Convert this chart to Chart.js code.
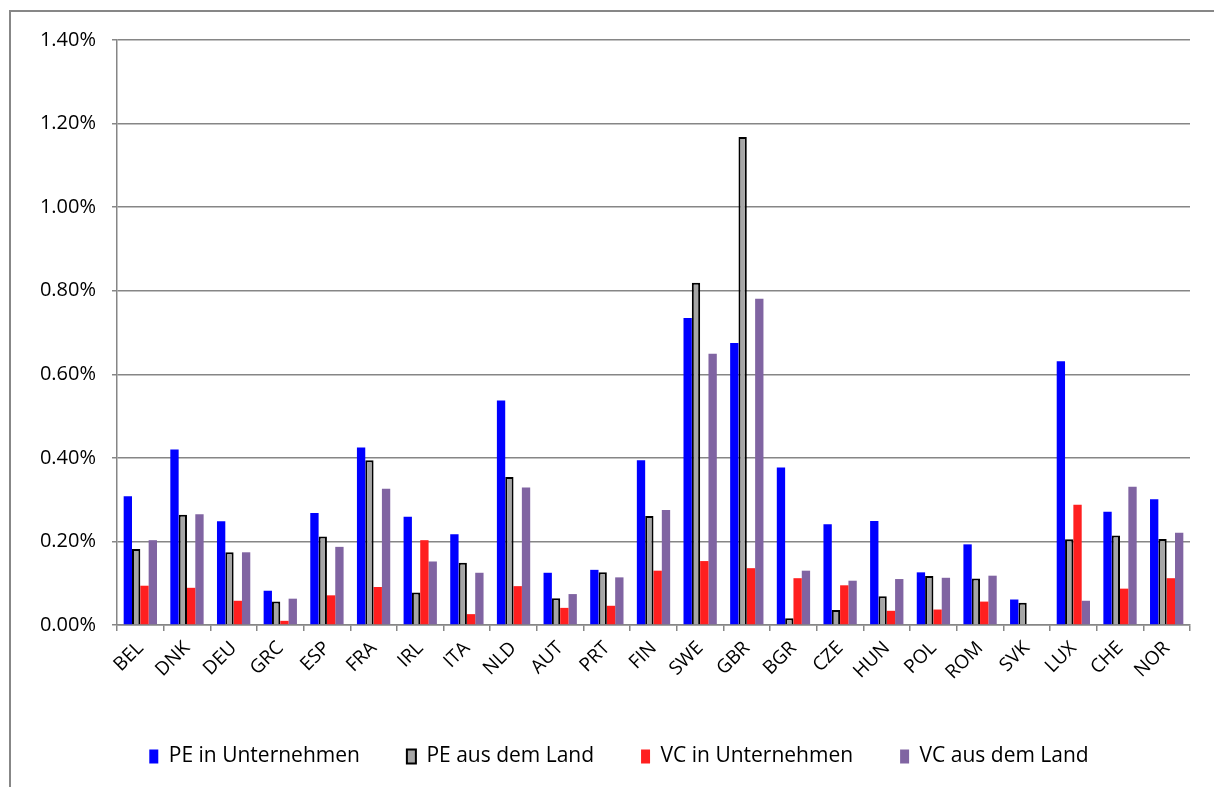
<!DOCTYPE html>
<html>
<head>
<meta charset="utf-8">
<script src="https://cdn.jsdelivr.net/npm/chart.js@4/dist/chart.umd.min.js"></script>
<style>
  html, body { margin: 0; padding: 0; background: #fff; overflow: hidden; width: 1214px; height: 787px; }
  #frame { position: absolute; left: 9px; top: 10px; width: 1300px; height: 900px; border-left: 2px solid #878787; border-top: 2px solid #878787; }
  #wrap { position: absolute; left: 0; top: 0; width: 1238px; height: 787px; }
</style>
</head>
<body>
<div id="frame"></div>
<div id="wrap"><canvas id="c"></canvas></div>
<script>
const categories = ["BEL","DNK","DEU","GRC","ESP","FRA","IRL","ITA","NLD","AUT","PRT","FIN","SWE","GBR","BGR","CZE","HUN","POL","ROM","SVK","LUX","CHE","NOR"];
const peInUnternehmen = [0.308,0.420,0.248,0.082,0.268,0.425,0.259,0.217,0.537,0.125,0.132,0.394,0.735,0.675,0.377,0.241,0.249,0.126,0.193,0.061,0.631,0.271,0.301];
const peAusDemLand    = [0.182,0.264,0.174,0.056,0.212,0.394,0.078,0.149,0.354,0.064,0.126,0.261,0.819,1.168,0.016,0.036,0.069,0.117,0.111,0.053,0.205,0.214,0.206];
const vcInUnternehmen = [0.094,0.089,0.058,0.010,0.071,0.091,0.203,0.026,0.093,0.041,0.046,0.130,0.153,0.136,0.112,0.095,0.034,0.037,0.056,0,0.288,0.087,0.112];
const vcAusDemLand    = [0.203,0.265,0.174,0.063,0.187,0.326,0.152,0.125,0.329,0.074,0.114,0.275,0.649,0.781,0.130,0.106,0.110,0.113,0.118,0,0.058,0.331,0.221];
const seriesNames = ["PE in Unternehmen","PE aus dem Land","VC in Unternehmen","VC aus dem Land"];
const yTicks = [0,0.2,0.4,0.6,0.8,1.0,1.2,1.4];

const FONT = "'Open Sans', 'DejaVu Sans', sans-serif";
const GRID = '#868686';

new Chart(document.getElementById('c'), {
  type: 'bar',
  data: {
    labels: categories,
    datasets: [
      { label: seriesNames[0], data: peInUnternehmen, backgroundColor: '#0000ff', borderWidth: 0 },
      { label: seriesNames[1], data: peAusDemLand, backgroundColor: '#a6a6a6', borderColor: '#000000', borderWidth: 2 },
      { label: seriesNames[2], data: vcInUnternehmen, backgroundColor: '#ff1f1f', borderWidth: 0 },
      { label: seriesNames[3], data: vcAusDemLand, backgroundColor: '#8064a2', borderWidth: 0 }
    ]
  },
  options: {
    responsive: true,
    maintainAspectRatio: false,
    animation: false,
    devicePixelRatio: 1,
    layout: { padding: { top: 40, right: 0, left: 0, bottom: 10 } },
    datasets: { bar: { categoryPercentage: 0.714, barPercentage: 1.0 } },
    plugins: {
      tooltip: { enabled: false },
      legend: {
        position: 'bottom',
        labels: {
          font: { family: FONT, size: 21 },
          color: '#000',
          boxWidth: 9,
          boxHeight: 14,
          padding: 47,
          generateLabels: (chart) => chart.data.datasets.map((ds, i) => ({
            text: ds.label,
            fillStyle: ds.backgroundColor,
            strokeStyle: i === 1 ? '#000' : ds.backgroundColor,
            lineWidth: i === 1 ? 2 : 0,
            hidden: false,
            datasetIndex: i,
            fontColor: '#000'
          }))
        }
      }
    },
    scales: {
      x: {
        grid: { display: true, drawOnChartArea: false, drawTicks: true, tickLength: 6, color: GRID, lineWidth: 1.5, offset: true },
        border: { display: true, color: GRID, width: 1.5 },
        ticks: { font: { family: FONT, size: 19 }, color: '#000', minRotation: 45, maxRotation: 45, padding: 6 },
        afterFit: (s) => { s.height = 74; }
      },
      y: {
        min: 0, max: 1.4,
        afterBuildTicks: (s) => { s.ticks = yTicks.map(v => ({ value: v })); },
        grid: { color: GRID, lineWidth: 1.5, tickLength: 5, drawTicks: true },
        border: { display: true, color: GRID, width: 1.5 },
        ticks: { font: { family: FONT, size: 20 }, color: '#000', padding: 16, callback: (v) => Number(v).toFixed(2) + '%' },
        afterFit: (s) => { s.width = 117; }
      },
      spacer: {
        type: 'linear',
        position: 'right',
        display: true,
        grid: { display: false, drawTicks: false },
        border: { display: false },
        ticks: { display: false },
        afterFit: (s) => { s.width = 48; }
      }
    }
  }
});
</script>
</body>
</html>
